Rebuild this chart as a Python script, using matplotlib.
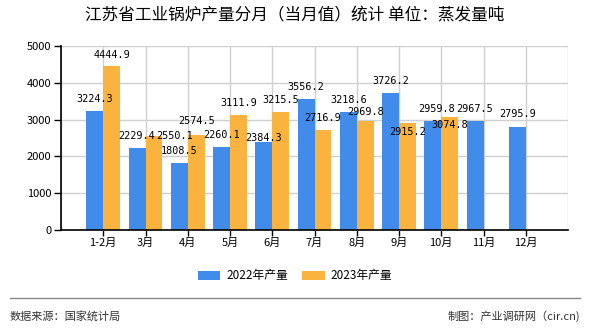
import matplotlib.pyplot as plt
import numpy as np
from matplotlib.lines import Line2D

plt.rcParams['font.family'] = ['Noto Sans CJK SC', 'DejaVu Sans']

# 数据
months = ['1-2月', '3月', '4月', '5月', '6月', '7月', '8月', '9月', '10月', '11月', '12月']
prod_2022 = [3224.3, 2229.4, 1808.5, 2260.1, 2384.3, 3556.2, 3218.6, 3726.2, 2959.8, 2967.5, 2795.9]
prod_2023 = [4444.9, 2550.1, 2574.5, 3111.9, 3215.5, 2716.9, 2969.8, 2915.2, 3074.8]

# 标签偏移（像素），避免重叠
off_2022 = [(0, 12), (0, 12), (0, 12), (0, 12), (0, 4), (0, 12), (0, 12), (0, 12), (4, 12), (0, 12), (0, 13)]
off_2023 = [(0, 11), (21, 0), (0, 14), (0, 12), (0, 12), (0, 12), (0, 9), (0, -9), (0, -8)]

c22 = '#418BEA'
c23 = '#FAB33E'

fig = plt.figure(figsize=(5.9, 3.3), dpi=100)
ax = fig.add_axes([61 / 590, 1 - 230 / 330, 507 / 590, 184 / 330])

x = np.arange(1, len(months) + 1)
w = 0.4
b1 = ax.bar(x[:len(prod_2022)] - w / 2, prod_2022, w, color=c22, label='2022年产量', zorder=2)
b2 = ax.bar(x[:len(prod_2023)] + w / 2, prod_2023, w, color=c23, label='2023年产量', zorder=2)

for rect, v, (dx, dy) in zip(b1, prod_2022, off_2022):
    ax.annotate(f'{v:.1f}', (rect.get_x() + rect.get_width() / 2, v), xytext=(dx, dy),
                textcoords='offset pixels', ha='center', va='center',
                fontsize=7.3, family='DejaVu Sans Mono', zorder=3)
for rect, v, (dx, dy) in zip(b2, prod_2023, off_2023):
    ax.annotate(f'{v:.1f}', (rect.get_x() + rect.get_width() / 2, v), xytext=(dx, dy),
                textcoords='offset pixels', ha='center', va='center',
                fontsize=7.3, family='DejaVu Sans Mono', zorder=3)

ax.set_xlim(0, 12)
ax.set_ylim(0, 5000)
ax.set_yticks(np.arange(0, 5001, 1000))
ax.set_xticks(x)
ax.set_xticklabels(months, fontsize=8)
ax.tick_params(axis='y', labelsize=8, length=5, width=1, pad=2)
ax.tick_params(axis='x', length=4, width=1, pad=2)
ax.set_xticks(np.arange(0, 13), minor=True)
ax.tick_params(axis='x', which='minor', length=0)
ax.grid(True, which='major', axis='y', color='#d0d0d0', lw=1, zorder=0)
ax.grid(True, which='major', axis='x', color='#d0d0d0', lw=1, zorder=0)
ax.grid(True, which='minor', axis='x', color='#d0d0d0', lw=1, zorder=0)
for s in ['top', 'right']:
    ax.spines[s].set_visible(False)
for s in ['left', 'bottom']:
    ax.spines[s].set_color('black')
    ax.spines[s].set_linewidth(1.2)

fig.text(0.5, 1 - 16 / 330, '江苏省工业锅炉产量分月（当月值）统计 单位：蒸发量吨',
         ha='center', va='center', fontsize=12)

fig.legend(handles=[b1, b2], loc='center', bbox_to_anchor=(0.5, 1 - 276 / 330),
           ncol=2, frameon=False, fontsize=8.5, handlelength=1.9, handleheight=0.85,
           handletextpad=0.5, columnspacing=1.2)

fig.add_artist(Line2D([10 / 590, 580 / 590], [1 - 298 / 330, 1 - 298 / 330],
                      color='#888888', lw=1))
fig.text(10 / 590, 1 - 316 / 330, '数据来源：国家统计局', ha='left', va='center',
         fontsize=8, color='#333333')
fig.text(580 / 590, 1 - 316 / 330, '制图：产业调研网（cir.cn)', ha='right', va='center',
         fontsize=8, color='#333333')

plt.savefig('out.png', dpi=100)
